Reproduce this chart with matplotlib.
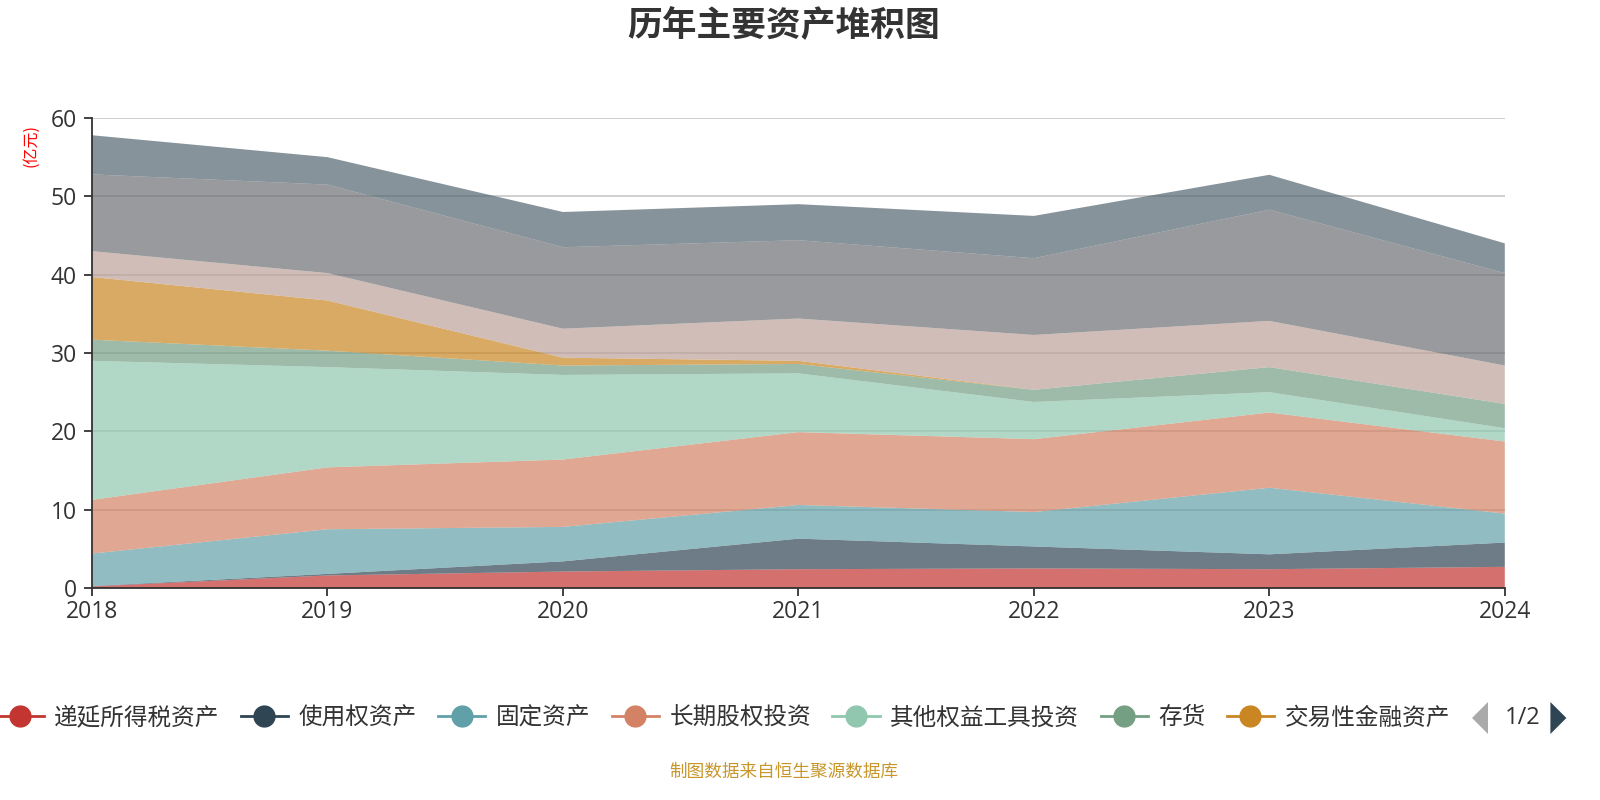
import matplotlib
matplotlib.use("Agg")
import matplotlib.pyplot as plt
import numpy as np
from matplotlib.lines import Line2D
from matplotlib.patches import Polygon

plt.rcParams['font.family'] = ['Noto Sans CJK SC', 'DejaVu Sans']

# 数据（亿元），自下而上堆叠
years = ['2018', '2019', '2020', '2021', '2022', '2023', '2024']
deferred_tax = [0.2, 1.6, 2.1, 2.4, 2.5, 2.4, 2.7]
right_of_use = [0.05, 0.2, 1.3, 3.9, 2.8, 1.9, 3.1]
fixed_assets = [4.15, 5.7, 4.4, 4.3, 4.4, 8.5, 3.7]
lt_equity = [6.85, 7.9, 8.6, 9.3, 9.3, 9.6, 9.2]
other_equity = [17.75, 12.8, 10.8, 7.5, 4.75, 2.6, 1.7]
inventory = [2.7, 2.1, 1.2, 1.2, 1.55, 3.2, 3.1]
trading_fin = [8.0, 6.4, 1.0, 0.4, 0.0, 0.0, 0.0]
receivables = [3.3, 3.5, 3.7, 5.4, 7.0, 5.9, 4.9]
cash = [9.8, 11.3, 10.4, 10.0, 9.8, 14.2, 11.8]
other_noncurrent = [5.0, 3.5, 4.5, 4.6, 5.4, 4.45, 3.8]

series_names = ['递延所得税资产', '使用权资产', '固定资产', '长期股权投资', '其他权益工具投资',
                '存货', '交易性金融资产', '应收账款', '货币资金', '其他非流动资产']
series_values = [deferred_tax, right_of_use, fixed_assets, lt_equity, other_equity,
                 inventory, trading_fin, receivables, cash, other_noncurrent]
colors = ['#c23531', '#2f4554', '#61a0a8', '#d48265', '#91c7ae',
          '#749f83', '#ca8622', '#bda29a', '#6e7074', '#546570']
legend_count = 7  # 图例第一页显示的条目数

fig = plt.figure(figsize=(16, 8), dpi=100)
ax = fig.add_axes([0.0575, 0.265, 0.883, 0.5875])

x = np.arange(len(years))
ax.stackplot(x, *series_values, colors=colors, alpha=0.7, linewidth=0, zorder=2)

ax.set_xlim(0, len(years) - 1)
ax.set_ylim(0, 60)
ax.set_yticks(range(0, 61, 10))
ax.set_xticks(x)
ax.set_xticklabels(years)
ax.yaxis.grid(True, color='#cccccc', linewidth=1.3, zorder=1)
ax.set_axisbelow(True)

for side in ['top', 'right']:
    ax.spines[side].set_visible(False)
for side in ['left', 'bottom']:
    ax.spines[side].set_color('#333333')
    ax.spines[side].set_linewidth(1.3)
    ax.spines[side].set_zorder(3)
ax.tick_params(axis='both', colors='#333333', length=6, width=1.3)
ax.tick_params(axis='y', pad=5)
ax.tick_params(axis='x', pad=3)
for lab in ax.get_xticklabels() + ax.get_yticklabels():
    lab.set_family(['Open Sans', 'DejaVu Sans'])
    lab.set_fontsize(16.5)

fig.text(0.019, 0.818, '(亿元)', color='red', fontsize=11.5, rotation=90,
         ha='center', va='center')
fig.text(0.49, 0.968, '历年主要资产堆积图', fontsize=25, fontweight='bold',
         color='#333333', ha='center', va='center')

handles = [Line2D([0], [0], color=c, lw=2, marker='o', markersize=15,
                  markerfacecolor=c, markeredgecolor=c)
           for c in colors[:legend_count]]
fig.legend(handles, series_names[:legend_count], loc='center', ncol=legend_count,
           bbox_to_anchor=(0.452, 0.1025), frameon=False, fontsize=17,
           handlelength=2.0, handletextpad=0.45, columnspacing=0.9,
           labelcolor='#333333')

# 图例翻页器
fig.patches.append(Polygon([[0.9200, 0.1025], [0.9300, 0.1225], [0.9300, 0.0825]],
                           closed=True, transform=fig.transFigure,
                           facecolor='#aaaaaa', edgecolor='none'))
fig.text(0.9515, 0.1025, '1/2', fontsize=17, color='#333333', ha='center', va='center',
         family=['Open Sans', 'DejaVu Sans'])
fig.patches.append(Polygon([[0.9690, 0.1225], [0.9690, 0.0825], [0.9790, 0.1025]],
                           closed=True, transform=fig.transFigure,
                           facecolor='#2f4554', edgecolor='none'))

fig.text(0.49, 0.035, '制图数据来自恒生聚源数据库', fontsize=12.7, color='#c8962a',
         ha='center', va='center')

fig.savefig('out.png', dpi=100)
